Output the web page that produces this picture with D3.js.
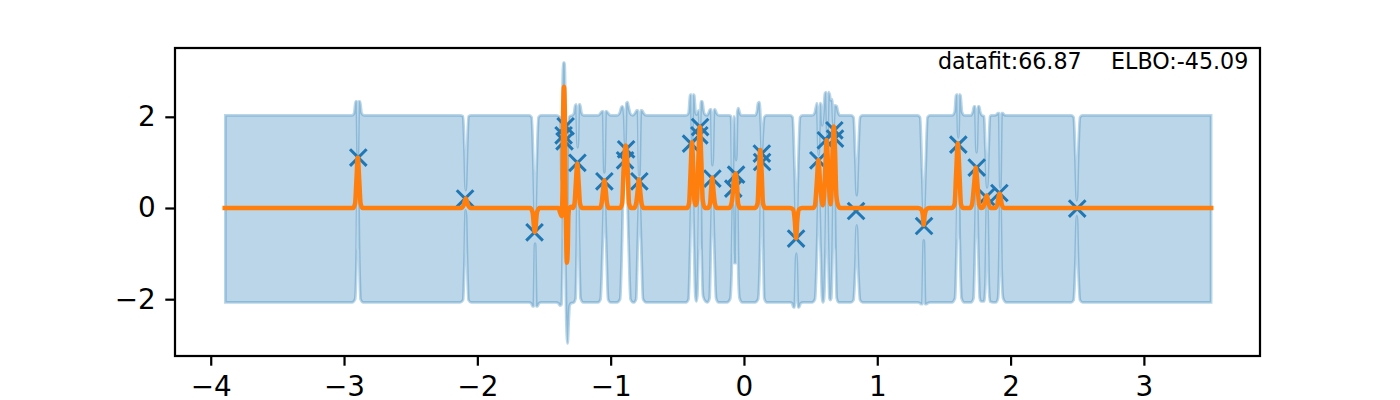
<!DOCTYPE html>
<html>
<head>
<meta charset="utf-8">
<script src="https://cdn.jsdelivr.net/npm/d3@7/dist/d3.min.js"></script>
<style>
  body { margin: 0; background: #fff; }
  text { font-family: "DejaVu Sans", sans-serif; }
</style>
</head>
<body>
<svg id="chart" width="1400" height="400"></svg>
<script>
const pointX = [-2.893, -2.092, -1.571, -1.338, -1.353, -1.346, -1.249, -1.047, -0.884, -0.892, -0.785, -0.397, -0.329, -0.335, -0.237, -0.059, -0.08, 0.134, 0.136, 0.391, 0.558, 0.614, 0.678, 0.683, 0.841, 1.351, 1.608, 1.746, 1.816, 1.916, 2.5];
const pointY = [1.105, 0.206, -0.533, 1.792, 1.594, 1.463, 0.991, 0.586, 1.287, 1.046, 0.586, 1.412, 1.776, 1.594, 0.645, 0.732, 0.425, 1.193, 1.009, -0.671, 1.046, 1.485, 1.704, 1.522, -0.066, -0.395, 1.39, 0.886, 0.241, 0.329, -0.013];

const upperX = [-3.89, -2.939, -2.924, -2.913, -2.905, -2.897, -2.888, -2.88, -2.868, -2.849,
  -2.129, -2.107, -2.096, -2.087, -2.077, -2.066, -2.047,
  -1.612, -1.593, -1.578, -1.567, -1.556, -1.541, -1.522,
  -1.409, -1.387, -1.376, -1.368, -1.361, -1.355, -1.346, -1.338, -1.329, -1.32, -1.308, -1.289,
  -1.275, -1.266, -1.258, -1.247, -1.237, -1.23, -1.218, -1.203,
  -1.094, -1.076, -1.064, -1.057, -1.047, -1.037, -1.03, -1.019, -1.001,
  -0.952, -0.933, -0.92, -0.91, -0.899, -0.89, -0.882, -0.874, -0.866, -0.854, -0.836,
  -0.817, -0.804, -0.796, -0.785, -0.773, -0.765, -0.753, -0.734,
  -0.434, -0.416, -0.404, -0.397, -0.389, -0.38, -0.373, -0.363, -0.356, -0.348, -0.339, -0.331, -0.322, -0.312, -0.303, -0.292, -0.277,
  -0.266, -0.254, -0.247, -0.236, -0.224, -0.217, -0.206, -0.187,
  -0.112, -0.097, -0.086, -0.074, -0.067, -0.058, -0.05, -0.042, -0.033, -0.022,
  0.083, 0.096, 0.106, 0.116, 0.127, 0.134, 0.143, 0.152, 0.17,
  0.346, 0.365, 0.38, 0.393, 0.406, 0.421, 0.44,
  0.511, 0.53, 0.541, 0.548, 0.561, 0.571, 0.578, 0.588, 0.597, 0.608, 0.616, 0.626, 0.635, 0.643, 0.651, 0.661, 0.672, 0.681, 0.696, 0.706, 0.721,
  0.803, 0.822, 0.836, 0.846, 0.856, 0.871, 0.89,
  1.302, 1.321, 1.336, 1.349, 1.362, 1.377, 1.396,
  1.561, 1.58, 1.591, 1.599, 1.608, 1.617, 1.624, 1.636, 1.655,
  1.7, 1.716, 1.726, 1.734, 1.745, 1.756, 1.764, 1.773, 1.786, 1.801, 1.812, 1.824, 1.835, 1.846, 1.857,
  1.876, 1.895, 1.906, 1.914, 1.923, 1.933, 1.941, 1.951, 1.97,
  2.454, 2.473, 2.487, 2.497, 2.506, 2.521, 2.54, 3.504];
const upperY = [2.03, 2.03, 2.08, 2.34, 2.34, 1.12, 2.34, 2.34, 2.08, 2.03,
  2.03, 2.01, 1.26, 0.39, 1.26, 2.01, 2.03,
  2.03, 1.99, 0.82, -0.38, 0.82, 1.99, 2.03,
  2.03, 2.01, 1.97, 0.61, 2.58, 3.19, 3.19, 1.93, -1.04, 1.71, 2.01, 2.03,
  2.08, 2.25, 2.27, 1.33, 2.27, 2.27, 2.08, 2.03,
  2.03, 2.08, 2.12, 2.12, 0.78, 2.12, 2.12, 2.08, 2.03,
  2.03, 2.08, 2.21, 2.23, 2.03, 1.37, 2.3, 2.32, 2.23, 2.08, 2.03,
  2.08, 2.14, 2.14, 0.72, 2.14, 2.14, 2.08, 2.03,
  2.03, 2.08, 2.47, 2.49, 1.48, 2.49, 2.47, 2.1, 2.05, 2.1, 2.14, 1.75, 2.34, 2.34, 2.14, 2.05, 2.03,
  2.08, 2.16, 2.16, 0.94, 2.16, 2.16, 2.08, 2.03,
  2.03, 2.01, 0.5, 2.01, 1.82, 1.05, 2.1, 2.19, 2.1, 2.03,
  2.03, 2.1, 2.3, 2.32, 1.8, 1.26, 1.7, 1.99, 2.03,
  2.03, 1.99, 0.82, -0.54, 0.82, 1.99, 2.03,
  2.03, 2.08, 2.23, 2.3, 1.16, 2.3, 2.27, 1.81, 2.1, 2.52, 2.54, 1.59, 2.54, 2.49, 2.36, 2.38, 1.81, 2.25, 2.23, 2.1, 2.03,
  2.03, 1.99, 1.05, 0.28, 1.05, 1.99, 2.03,
  2.03, 1.99, 0.82, -0.16, 0.82, 1.99, 2.03,
  2.03, 2.1, 2.47, 2.49, 1.55, 2.49, 2.47, 2.1, 2.03,
  2.03, 2.1, 2.23, 2.23, 1.22, 2.23, 2.23, 2.1, 2.03, 2.01, 1.26, 0.45, 1.26, 2.01, 2.03,
  2.03, 2.05, 2.08, 2.08, 0.45, 2.08, 2.08, 2.05, 2.03,
  2.03, 1.99, 1.05, 0.17, 1.05, 1.99, 2.03, 2.03];

const lowerX = [-3.89, -2.939, -2.917, -2.905, -2.897, -2.887, -2.876, -2.857,
  -2.129, -2.107, -2.096, -2.087, -2.077, -2.066, -2.047,
  -1.612, -1.597, -1.584, -1.577, -1.567, -1.557, -1.55, -1.537, -1.522,
  -1.409, -1.391, -1.38, -1.368, -1.359, -1.35, -1.342, -1.333, -1.323, -1.314, -1.308, -1.297, -1.275,
  -1.263, -1.254, -1.247, -1.237, -1.226, -1.207,
  -1.094, -1.076, -1.059, -1.047, -1.034, -1.019, -1.001,
  -0.952, -0.929, -0.914, -0.902, -0.892, -0.881, -0.866, -0.851, -0.832,
  -0.824, -0.809, -0.796, -0.785, -0.772, -0.757, -0.734,
  -0.434, -0.416, -0.404, -0.389, -0.374, -0.365, -0.358, -0.35, -0.341, -0.329, -0.318, -0.307, -0.288, -0.273,
  -0.258, -0.247, -0.236, -0.224, -0.209, -0.191,
  -0.127, -0.104, -0.092, -0.082, -0.073, -0.061, -0.053, -0.043, -0.033, -0.014,
  0.083, 0.106, 0.121, 0.131, 0.138, 0.145, 0.152, 0.17,
  0.346, 0.361, 0.372, 0.38, 0.393, 0.406, 0.413, 0.425, 0.443,
  0.511, 0.533, 0.548, 0.561, 0.575, 0.586, 0.593, 0.601, 0.612, 0.622, 0.632, 0.641, 0.647, 0.655, 0.665, 0.676, 0.687, 0.696, 0.71,
  0.803, 0.822, 0.836, 0.846, 0.856, 0.871, 0.89,
  1.306, 1.321, 1.331, 1.338, 1.349, 1.359, 1.367, 1.377, 1.396,
  1.561, 1.583, 1.596, 1.608, 1.619, 1.632, 1.651,
  1.704, 1.722, 1.734, 1.745, 1.756, 1.769, 1.779, 1.801, 1.811, 1.824, 1.837, 1.846, 1.869,
  1.891, 1.906, 1.914, 1.923, 1.933, 1.944, 1.966,
  2.454, 2.473, 2.487, 2.497, 2.506, 2.521, 2.54, 3.504];
const lowerY = [-2.07, -2.07, -2, -0.93, 1.04, -0.93, -2, -2.07,
  -2.07, -2.02, -1.15, -0.05, -1.15, -2.02, -2.07,
  -2.07, -2.09, -2.16, -2.16, -0.78, -2.16, -2.16, -2.09, -2.07,
  -2.07, -2.09, -2.14, -2.11, -0.71, 1.71, -0.49, -2.46, -2.97, -2.46, -2.14, -2.09, -2.07,
  -1.98, -0.71, 0.71, -0.71, -1.98, -2.07,
  -2.07, -2, -0.71, 0.34, -0.71, -2, -2.07,
  -2.07, -2, -0.71, 0.83, 0.93, 0.83, -0.71, -2, -2.07,
  -2.07, -2, -0.71, 0.28, -0.71, -2, -2.07,
  -2.07, -2, -0.93, 0.83, -0.93, -1.93, -2.05, -1.93, -0.93, 1.27, -0.93, -1.93, -2.05, -2.07,
  -1.98, -0.71, 0.39, -0.71, -1.98, -2.07,
  -2.07, -2, -1.37, 0.06, -1.21, -1.21, 0.5, -1.37, -1.98, -2.07,
  -2.07, -2, -0.93, 0.71, 0.71, -0.93, -1.98, -2.07,
  -2.07, -2.09, -2.18, -2.18, -1, -2.18, -2.18, -2.09, -2.07,
  -2.07, -2, -0.93, 0.39, -0.93, -1.98, -2.07, -1.98, -0.93, 0.61, -0.93, -1.98, -2.02, -1.98, -0.93, 0.93, -0.93, -1.98, -2.07,
  -2.07, -2.02, -1.26, -0.38, -1.26, -2.02, -2.07,
  -2.07, -2.09, -2.11, -2.11, -0.71, -2.11, -2.11, -2.09, -2.07,
  -2.07, -1.98, -0.71, 1.16, -0.71, -1.98, -2.07,
  -2.07, -1.98, -0.71, 0.71, -0.71, -1.98, -2.05, -2.05, -1.7, 0.17, -1.7, -2.05, -2.07,
  -2.07, -1.98, -1.37, 0.17, -1.37, -1.98, -2.07,
  -2.07, -2.02, -1.15, -0.18, -1.15, -2.02, -2.07, -2.07];

const meanX = [-3.895, -2.932, -2.917, -2.907, -2.897, -2.886, -2.876, -2.861,
  -2.122, -2.103, -2.087, -2.069, -2.051,
  -1.604, -1.586, -1.569, -1.552, -1.534,
  -1.391, -1.38, -1.368, -1.361, -1.356, -1.35, -1.344, -1.338, -1.332, -1.328, -1.322, -1.317, -1.308, -1.297,
  -1.282, -1.271, -1.262, -1.25, -1.239, -1.23, -1.214,
  -1.079, -1.067, -1.057, -1.047, -1.037, -1.028, -1.015,
  -0.929, -0.914, -0.903, -0.887, -0.872, -0.862, -0.847,
  -0.824, -0.809, -0.797, -0.788, -0.779, -0.768, -0.753,
  -0.427, -0.412, -0.4, -0.39, -0.38, -0.372, -0.362, -0.352, -0.342, -0.331, -0.32, -0.309, -0.294,
  -0.269, -0.254, -0.247, -0.238, -0.229, -0.218, -0.203,
  -0.112, -0.101, -0.089, -0.082, -0.074, -0.062, -0.052, -0.044, -0.029,
  0.083, 0.102, 0.113, 0.122, 0.132, 0.143, 0.158,
  0.346, 0.368, 0.381, 0.391, 0.4, 0.413, 0.436,
  0.518, 0.533, 0.545, 0.559, 0.572, 0.583, 0.591, 0.601, 0.611, 0.62, 0.631, 0.642, 0.65, 0.657, 0.665, 0.674, 0.683, 0.693, 0.706, 0.721,
  1.306, 1.329, 1.342, 1.348, 1.356, 1.369, 1.389,
  1.561, 1.58, 1.591, 1.604, 1.617, 1.628, 1.644,
  1.696, 1.711, 1.726, 1.739, 1.752, 1.764, 1.779, 1.794, 1.805, 1.821, 1.835, 1.848,
  1.884, 1.899, 1.917, 1.936, 1.951, 3.505];
const meanY = [0, 0, 0.1, 0.61, 1.11, 0.61, 0.1, 0,
  0, 0.06, 0.21, 0.06, 0,
  0, -0.09, -0.53, -0.09, 0,
  0, -0.09, -0.18, 0.39, 2.14, 2.66, 2.14, 0.17, -0.93, -1.2, -0.93, -0.16, 0.01, 0.03,
  0, 0.1, 0.5, 0.98, 0.5, 0.1, 0,
  0, 0.12, 0.39, 0.61, 0.39, 0.12, 0,
  0, 0.1, 0.83, 1.37, 0.83, 0.1, 0,
  0, 0.1, 0.39, 0.63, 0.39, 0.1, 0,
  0, 0.1, 0.83, 1.44, 0.83, 0.17, 0.06, 0.17, 1.05, 1.78, 1.05, 0.17, 0,
  0, 0.1, 0.39, 0.67, 0.39, 0.1, 0,
  0, 0.03, 0.17, 0.39, 0.65, 0.76, 0.5, 0.1, 0,
  0, 0.1, 0.83, 1.27, 0.83, 0.1, 0,
  0, -0.03, -0.27, -0.67, -0.27, -0.03, 0,
  0, 0.06, 0.5, 1.05, 0.5, 0.17, 0.06, 0.28, 0.94, 1.49, 0.94, 0.28, 0.08, 0.39, 1.27, 1.79, 1.27, 0.28, 0.06, 0,
  0, -0.03, -0.16, -0.37, -0.16, -0.03, 0,
  0, 0.08, 0.72, 1.42, 0.72, 0.08, 0,
  0, 0.08, 0.5, 0.89, 0.5, 0.08, 0, 0.01, 0.1, 0.28, 0.1, 0,
  0, 0.06, 0.32, 0.06, 0, 0];

const xTicks = [-4, -3, -2, -1, 0, 1, 2, 3];
const yTicks = [-2, 0, 2];
const datafitLabel = "datafit:66.87";
const elboLabel = "ELBO:-45.09";

const width = 1400;
const height = 400;
const margin = { top: 48, right: 140, bottom: 44, left: 175 };
const innerWidth = width - margin.left - margin.right;
const innerHeight = height - margin.top - margin.bottom;

const xScale = d3.scaleLinear().domain([-4.268, 3.871]).range([0, innerWidth]);
const yScale = d3.scaleLinear().domain([-3.246, 3.509]).range([innerHeight, 0]);

const svg = d3.select("#chart");
const g = svg.append("g").attr("transform", `translate(${margin.left},${margin.top})`);

// band outline: upper edge left to right, then lower edge back again
const bandLine = d3.line().x((d) => xScale(d[0])).y((d) => yScale(d[1])).curve(d3.curveMonotoneX);
const upperPath = bandLine(d3.zip(upperX, upperY));
const lowerPath = bandLine(d3.zip(lowerX, lowerY).reverse()).replace(/^M/, "L");

g.append("path")
  .attr("d", upperPath + lowerPath + "Z")
  .attr("fill", "#1f77b4")
  .attr("fill-opacity", 0.3)
  .attr("stroke", "#1f77b4")
  .attr("stroke-opacity", 0.3)
  .attr("stroke-width", 2.78);

g.selectAll(".point")
  .data(d3.zip(pointX, pointY))
  .join("path")
  .attr("class", "point")
  .attr("transform", (d) => `translate(${xScale(d[0])},${yScale(d[1])})`)
  .attr("d", "M-8.3,-8.3L8.3,8.3M-8.3,8.3L8.3,-8.3")
  .attr("fill", "none")
  .attr("stroke", "#1f77b4")
  .attr("stroke-width", 3);

g.append("path")
  .attr("d", bandLine(d3.zip(meanX, meanY)))
  .attr("fill", "none")
  .attr("stroke", "#ff7f0e")
  .attr("stroke-width", 4.5)
  .attr("stroke-linecap", "square")
  .attr("stroke-linejoin", "round");

const xAxis = g.append("g")
  .attr("transform", `translate(0,${innerHeight})`)
  .call(d3.axisBottom(xScale).tickValues(xTicks).tickFormat(d3.format("d")).tickSize(9.7).tickSizeOuter(0).tickPadding(10.5));
const yAxis = g.append("g")
  .call(d3.axisLeft(yScale).tickValues(yTicks).tickFormat(d3.format("d")).tickSize(9.7).tickSizeOuter(0).tickPadding(9.7));

[xAxis, yAxis].forEach((axis) => {
  axis.select(".domain").remove();
  axis.selectAll("line").attr("stroke", "#000").attr("stroke-width", 2.22);
  axis.selectAll("text").attr("fill", "#000").style("font-size", "27.8px").style("font-family", '"DejaVu Sans", sans-serif');
});

g.append("rect")
  .attr("width", innerWidth)
  .attr("height", innerHeight)
  .attr("fill", "none")
  .attr("stroke", "#000")
  .attr("stroke-width", 2.22);

g.append("text").attr("x", 763).attr("y", 21).attr("font-size", 22.2).text(datafitLabel);
g.append("text").attr("x", 936).attr("y", 21).attr("font-size", 22.2).text(elboLabel);
</script>
</body>
</html>
